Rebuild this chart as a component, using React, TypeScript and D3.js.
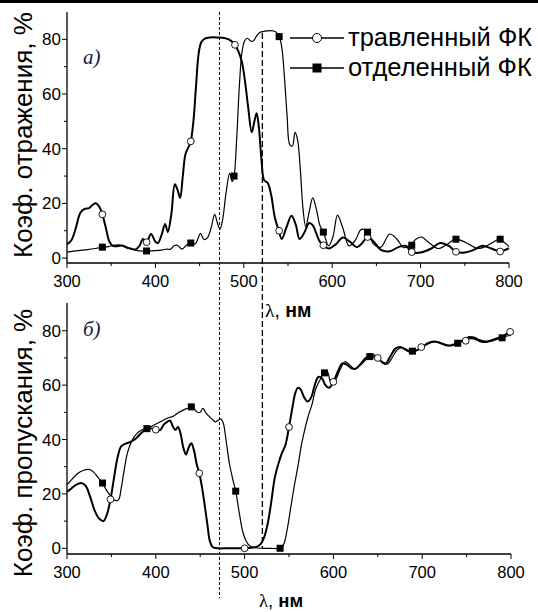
import React from "react";
import * as d3 from "d3";

type P = [number, number];

// Reflection (top), etched PC (thick line, open circles)
const reflEtched: P[] = [[300,5],[305,6.5],[310,11],[315,16.5],[320,18],[325,18.3],[329,19.5],[333,20],[337,18.5],[340,16],[344,11],[348,6],[352,4.5],[357,4.3],[362,4.6],[367,4],[372,3.5],[378,3.2],[382,4.5],[386,7],[390,5.8],[395,8.8],[400,6],[403,5.5],[407,8.5],[411,12.5],[414,9.5],[418,16],[422,27],[425,25],[428,22],[431,30],[434,38],[438,41],[440,42.7],[443,50],[446,63],[449,75],[452,79],[456,80.3],[462,80.7],[470,80.7],[478,80.5],[484,79.8],[490,78],[494,75.5],[498,71.5],[502,63],[505,55],[509,46],[512,50],[514.5,53],[517,48],[520,36],[523,28.5],[527,27.5],[531,23],[535,15],[539,10.5],[543,7],[548,11],[554,15.5],[559,12],[563,7],[568,9],[574,12.8],[578,12],[582,9],[586,6],[590,4.7],[596,3.5],[604,5],[612,7.5],[620,6],[628,4],[634,5.5],[640,7.7],[647,6],[655,3],[665,2.5],[675,4],[683,4.5],[690,2.2],[700,2],[712,3.5],[722,5.5],[732,4.5],[740,2.3],[750,2],[760,3],[770,4.5],[780,3.5],[790,2.4],[800,3.6]];
// Reflection (top), separated PC (thin line, filled squares)
const reflSeparated: P[] = [[300,2.2],[310,2.6],[320,3],[330,3.4],[340,4],[347,4.2],[352,4.6],[358,4.8],[363,4.4],[368,3.6],[374,3.2],[380,2.7],[386,2.5],[392,2.5],[400,2.7],[408,3],[413,3.3],[417,3.2],[421,4.5],[425,4.7],[430,3.3],[436,5],[440,5.5],[445,5.2],[448,7],[451,9],[455,6.8],[459,7.5],[463,11],[467,16],[470,13],[473,10.5],[476,14],[480,24],[484,31],[487,28],[489,30],[492,44],[495,63],[498,75.5],[501,79.5],[504,80.4],[508,79.3],[511,79.5],[514,81],[518,82.5],[524,83],[530,83.2],[536,82.8],[540,81],[543,77],[546,66],[549,52],[552,41.5],[555,41],[558,46],[561,43],[564,32],[567,18],[570,11.5],[574,17],[578,22],[582,18],[586,12],[590,9.5],[596,4.5],[601,8],[606,15.7],[612,11],[619,4.5],[626,6.5],[633,10.5],[640,9.5],[647,5],[655,4],[665,8.8],[673,7],[681,3.8],[688,4.7],[695,7],[701,7.7],[710,5.5],[720,3.5],[730,5],[739,6.9],[747,6.3],[755,5],[765,3.5],[775,4.5],[783,6],[789,6.9],[795,5.7],[800,4.2]];
const reflCircles: P[] = [[340,16],[390,5.8],[440,42.7],[490,78],[540,10],[590,4.7],[640,7.7],[690,2.2],[740,2.3],[790,2.4]];
const reflSquares: P[] = [[340,4],[390,2.6],[440,5.5],[489,30],[540,81],[590,9.5],[640,9.5],[690,4.7],[740,6.9],[790,6.9]];

// Transmission (bottom)
const transEtched: P[] = [[300,20.8],[305,22],[310,23.3],[316,24],[321,23],[326,19],[331,14],[336,11],[341,10],[345,12.5],[349,18],[353,26],[357,33.5],[361,37.5],[366,38.5],[372,39.2],[378,40.5],[384,42.5],[390,44],[396,44],[400,43.6],[405,43.5],[409,45.5],[413,46.5],[416,47],[419,45],[422,43.5],[425,44.6],[428,42],[431,37],[434,34.5],[437,37],[440,38.6],[443,36],[446,31],[449,27.6],[452,22.5],[455,16],[458,9],[461,2.5],[464,0.5],[470,0],[480,0],[490,0],[500,0],[508,0.2],[514,0.6],[518,1.5],[522,4],[526,9],[530,17],[534,26],[538,31],[542,35],[546,38],[550,44.6],[554,52],[557,57],[560,59],[563,58.5],[567,55.5],[571,54],[575,55.5],[579,60],[583,63],[587,62.5],[591,60],[595,59],[600,61.2],[605,65],[610,68],[615,67.5],[620,66.3],[625,66],[630,67.5],[635,69.5],[640,70.8],[645,70.5],[650,70],[655,68.5],[659,68],[664,70.5],[670,73.5],[675,74],[680,73.3],[686,72.3],[692,72.5],[700,74],[706,75.3],[713,76],[720,75.5],[727,74.7],[733,74.7],[740,75.5],[746,76.5],[752,77.6],[758,77.5],[765,76.5],[771,76],[778,76.5],[785,77.3],[791,78],[796,79],[800,79.6]];
const transSeparated: P[] = [[300,23.3],[306,25.5],[312,27.5],[318,28.6],[325,29],[330,28],[335,26],[340,24],[345,21],[350,19],[354,17.6],[358,17.8],[361,22],[364,28],[368,35],[373,39.5],[378,42],[384,43.5],[390,44],[396,45],[402,46],[408,47],[414,48],[420,48.6],[426,50],[432,51],[436,51.5],[440,52],[444,51],[447,50],[450,50],[453,51.5],[456,50],[460,48.5],[464,47.3],[467,46.5],[470,47],[473,47.6],[476,46],[479,40],[483,31],[487,25],[490,21],[494,13],[498,6],[502,2.5],[506,0.8],[512,0.2],[520,0],[530,0],[540,0],[544,1.5],[548,7],[552,15],[556,23],[560,30],[564,38],[568,44],[572,49],[576,53],[580,58.5],[585,62],[589,64.5],[593,65],[597,61],[600,60.5],[604,63],[608,66],[613,68.6],[618,67.5],[624,66],[629,67],[634,68.5],[640,70.3],[645,71.3],[650,70],[656,68],[661,67.8],[666,70],[672,73],[677,73.8],[683,73],[689,72.5],[695,73],[702,74.5],[709,75.5],[716,76],[723,75.3],[730,74.5],[736,74.8],[740,75.4],[746,76.3],[752,77],[758,77],[765,76],[771,75.7],[778,76.2],[784,76.8],[790,77.4],[795,78],[800,78.3]];
const transCircles: P[] = [[349,18],[400,43.6],[449,27.6],[500,0],[550,44.6],[600,61.2],[650,70],[699,74],[749,76.3],[799,79.6]];
const transSquares: P[] = [[340,24],[390,44],[440,52],[490,21],[540,0],[590,64.5],[641,70.5],[689,72.5],[740,75.4],[790,77.4]];

const xTicks = [300, 400, 500, 600, 700, 800];
const xMinor = [350, 450, 550, 650, 750];
const yTicks = [0, 20, 40, 60, 80];
const yMinor = [10, 30, 50, 70];
const dashNm = [472.5, 521];
const legendLabels = ["травленный ФК", "отделенный ФК"];

const FONT = "Arial, 'Liberation Sans', sans-serif";
const SERIF = "'Liberation Serif', 'Times New Roman', serif";

function Panel({ x, y, etched, sep, circles, squares, yLabel, labelY, tag, tagY }: any) {
  const line = d3.line<P>().x(d => x(d[0])).y(d => y(d[1])).curve(d3.curveCatmullRom.alpha(0.5));
  const [x0, x1] = x.range();
  const [yb, yt] = y.range();
  return (
    <g>
      <path d={line(sep) || ""} fill="none" stroke="#000" strokeWidth={1.2} />
      <path d={line(etched) || ""} fill="none" stroke="#000" strokeWidth={2} />
      {circles.map((d: P, i: number) => (
        <circle key={"c" + i} cx={x(d[0])} cy={y(d[1])} r={3.4} fill="#fff" stroke="#000" strokeWidth={0.9} />
      ))}
      {squares.map((d: P, i: number) => (
        <rect key={"s" + i} x={x(d[0]) - 3.5} y={y(d[1]) - 3.5} width={7} height={7} fill="#000" />
      ))}
      <line x1={x0} x2={x1} y1={yb} y2={yb} stroke="#000" strokeWidth={1.3} />
      <line x1={x0} x2={x0} y1={yb} y2={yt} stroke="#000" strokeWidth={1.3} />
      {xTicks.map(t => (
        <g key={"xt" + t}>
          <line x1={x(t)} x2={x(t)} y1={yb} y2={yb + 5} stroke="#000" strokeWidth={1} />
          <text x={x(t)} y={yb + 24} textAnchor="middle" fontFamily={FONT} fontSize={16.5}>{t}</text>
        </g>
      ))}
      {xMinor.map(t => (
        <line key={"xm" + t} x1={x(t)} x2={x(t)} y1={yb} y2={yb + 3} stroke="#000" strokeWidth={1} />
      ))}
      {yTicks.map(t => (
        <g key={"yt" + t}>
          <line x1={x0 - 5} x2={x0} y1={y(t)} y2={y(t)} stroke="#000" strokeWidth={1} />
          <text x={x0 - 6} y={y(t) + 6} textAnchor="end" fontFamily={FONT} fontSize={17}>{t}</text>
        </g>
      ))}
      {yMinor.map(t => (
        <line key={"ym" + t} x1={x0 - 3} x2={x0} y1={y(t)} y2={y(t)} stroke="#000" strokeWidth={1} />
      ))}
      <text transform={`translate(32,${labelY}) rotate(-90)`} textAnchor="middle" fontFamily={FONT} fontSize={26}>{yLabel}</text>
      <text x={83} y={tagY} fontFamily={SERIF} fontStyle="italic" fontSize={21} fill="#1a1a40">{tag}</text>
    </g>
  );
}

export default function App() {
  const xTop = d3.scaleLinear().domain([300, 800]).range([67, 509]);
  const yTop = d3.scaleLinear().domain([-1.8, 90]).range([263, 12]);
  const xBot = d3.scaleLinear().domain([300, 800]).range([67, 511]);
  const yBot = d3.scaleLinear().domain([-2.1, 90.2]).range([554, 303]);
  return (
    <svg width={538} height={612} style={{ position: "absolute", left: 0, top: 0, background: "#fff" }}>
      <rect x={0} y={0} width={538} height={612} fill="#fff" />
      <line x1={0} x2={538} y1={1.5} y2={1.5} stroke="#000" strokeWidth={3} />
      <line x1={xTop(dashNm[0])} x2={xTop(dashNm[0])} y1={12} y2={598} stroke="#000" strokeWidth={1} strokeDasharray="3,2" />
      <line x1={xTop(dashNm[1])} x2={xTop(dashNm[1])} y1={33} y2={548} stroke="#000" strokeWidth={1.3} strokeDasharray="6,3" />
      <Panel x={xTop} y={yTop} etched={reflEtched} sep={reflSeparated} circles={reflCircles} squares={reflSquares}
        yLabel="Коэф. отражения, %" labelY={135} tag="а)" tagY={64} />
      <Panel x={xBot} y={yBot} etched={transEtched} sep={transSeparated} circles={transCircles} squares={transSquares}
        yLabel="Коэф. пропускания, %" labelY={443} tag="б)" tagY={336} />
      {legendLabels.map((l, i) => (
        <g key={l}>
          <line x1={290} x2={344} y1={38 + i * 30} y2={38 + i * 30} stroke="#000" strokeWidth={1.5} />
          {i === 0 ? (
            <circle cx={317} cy={38} r={4.5} fill="#fff" stroke="#000" strokeWidth={1} />
          ) : (
            <rect x={312.5} y={68 - 4.5} width={9} height={9} fill="#000" />
          )}
          <text x={348} y={38 + i * 30 + 8} fontFamily={FONT} fontSize={25.5}>{l}</text>
        </g>
      ))}
      <text x={265} y={317} fontSize={19.5} fontFamily={FONT}>
        <tspan fontFamily={SERIF}>λ</tspan>
        <tspan>, </tspan>
        <tspan fontWeight="bold">нм</tspan>
      </text>
      <text x={281} y={607} textAnchor="middle" fontSize={18.5} fontFamily={FONT}>
        <tspan fontFamily={SERIF}>λ</tspan>
        <tspan>, </tspan>
        <tspan fontWeight="bold">нм</tspan>
      </text>
    </svg>
  );
}
